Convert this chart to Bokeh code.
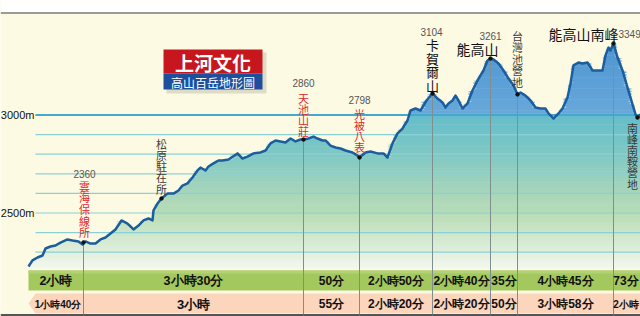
import numpy as np
from bokeh.plotting import figure
from bokeh.models import Range1d
from bokeh.core.properties import value
from bokeh.embed import file_html
from bokeh.resources import INLINE

# ---------------- data ----------------
dist = [28, 32, 37, 42, 45, 50, 55, 60, 67, 72, 78, 82, 85, 90, 95, 100, 105, 110, 115, 121,
        127, 133, 138, 143, 148, 152, 153, 157, 161, 167, 173, 178, 182, 187, 192, 197, 200, 205,
        208, 213, 218, 222, 228, 237, 242, 247, 253, 260, 265, 270, 275, 280, 285, 290, 295, 300,
        303, 308, 313, 317, 322, 325, 330, 335, 340, 345, 352, 357, 359, 365, 370, 377, 383, 387,
        392, 397, 402, 407, 410, 415, 420, 426, 432, 437, 442, 445, 448, 452, 455, 458, 462, 467,
        472, 477, 480, 483, 487, 490, 493, 498, 503, 508, 513, 517, 520, 525, 530, 535, 540, 545,
        548, 553, 558, 562, 567, 570, 573, 578, 582, 587, 592, 597, 602, 605, 608, 610, 613, 617,
        622, 627, 632, 635, 637, 640]
elev = [2227, 2258, 2273, 2283, 2319, 2329, 2334, 2349, 2365, 2360, 2355, 2339, 2355, 2344,
        2344, 2365, 2375, 2395, 2416, 2462, 2446, 2416, 2436, 2462, 2472, 2462, 2513, 2548,
        2574, 2599, 2599, 2615, 2640, 2651, 2681, 2717, 2732, 2717, 2737, 2753, 2768, 2768,
        2773, 2804, 2778, 2788, 2804, 2809, 2819, 2855, 2870, 2865, 2860, 2880, 2865, 2875,
        2875, 2880, 2890, 2880, 2870, 2870, 2844, 2834, 2829, 2819, 2809, 2793, 2783, 2809,
        2814, 2804, 2804, 2783, 2855, 2906, 2931, 2972, 3023, 3033, 3023, 3074, 3110, 3084,
        3064, 3038, 3059, 3074, 3099, 3074, 3033, 3059, 3125, 3176, 3202, 3227, 3278, 3288,
        3283, 3263, 3227, 3186, 3151, 3105, 3115, 3099, 3074, 3038, 3033, 3033, 3008, 2982,
        3008, 3033, 3089, 3161, 3253, 3268, 3263, 3268, 3227, 3227, 3227, 3304, 3344, 3329,
        3365, 3293, 3227, 3140, 3054, 3003, 2987, 3003]

wp_names = ["雲海保線所", "松原駐在所", "天池山莊", "光被八表", "卡賀爾山", "能高山",
            "台灣池營地", "能高山南峰", "南峰南鞍營地"]
wp_dist = [83, 161, 303, 359, 432, 490, 517, 613, 637]
wp_elev = [2350, 2574, 2875, 2783, 3110, 3288, 3105, 3365, 2987]
wp_height_text = ["2360", "", "2860", "2798", "3104", "3261", "", "3349", ""]

seg_bounds = [28, 83, 303, 359, 432, 490, 517, 613, 640]
time_forward = ["2小時", "3小時30分", "50分", "2小時50分", "2小時40分", "35分", "4小時45分", "73分"]
time_back = ["1小時40分", "3小時", "55分", "2小時20分", "2小時20分", "50分", "3小時58分", "2小時"]

grid_elev = [2300, 2400, 2500, 2600, 2700, 2800, 2900, 3000]
tick_elev = [3000, 2500]
tick_text = ["3000m", "2500m"]

# ---------------- layout helpers ----------------
W, H = 640, 316
Y3000 = 114.5      # pixel row of 3000 m
PX100 = 19.6       # pixels per 100 m


def E(py):
    """pixel row -> elevation units"""
    return 3000 - (py - Y3000) / PX100 * 100


CJK = value("Noto Sans CJK TC")
NUM = value("Liberation Sans")
CREAM = "#fdfae3"

p = figure(width=W, height=H, x_range=Range1d(0, W), y_range=Range1d(E(H), E(0)),
           min_border=0, x_axis_location=None, y_axis_location=None,
           toolbar_location=None, output_backend="svg",
           background_fill_color=CREAM, border_fill_color=CREAM, outline_line_color=None)
p.grid.grid_line_color = None

# header strip
p.quad(left=0, right=W, top=E(-5), bottom=E(12), color="white", line_color=None)
p.segment(x0=0, y0=E(12.5), x1=W, y1=E(12.5), line_color="#7a7a7a", line_width=1.6)
p.circle(x=15.5, y=E(-4.5), radius=7, fill_color="#e47aa6", line_color=None)

# gradient fill under the profile, drawn as elevation bands
stops_e = [2205, 2300, 2400, 2500, 2600, 2800, 2995, 3005, 3200, 3420]
stops_c = [(246, 249, 242), (226, 239, 222), (205, 230, 200), (184, 220, 182),
           (168, 214, 186), (128, 200, 196), (100, 190, 202), (104, 168, 218),
           (90, 158, 214), (76, 145, 208)]
stops_c = np.array(stops_c, dtype=float)
ev = np.array(elev, dtype=float)
base = E(268)
step = 8
lo = base
while lo < 3420:
    hi = lo + step
    mid = (lo + hi) / 2
    col = [int(round(np.interp(mid, stops_e, stops_c[:, k]))) for k in range(3)]
    y1 = max(lo - 3, base)
    y2 = np.clip(ev, y1, hi)
    p.varea(x=dist, y1=y1, y2=y2, fill_color="#%02x%02x%02x" % tuple(col))
    lo = hi

# time bars
p.quad(left=seg_bounds[0], right=seg_bounds[-1], top=E(270), bottom=E(290),
       fill_color="#a3c85d", line_color=None)
p.quad(left=seg_bounds[0], right=seg_bounds[-1], top=E(270), bottom=E(273),
       fill_color="#b3d175", line_color=None)
x0 = seg_bounds[0]
p.patch(x=[x0, x0 + 7, W, W, x0 + 7], y=[E(303), E(293), E(293), E(313), E(313)],
        fill_color="#fcd5bd", line_color=None)
p.segment(x0=0, y0=E(314.5), x1=W, y1=E(314.5), line_color="#555555", line_width=2)

# grid lines
for g in grid_elev:
    if g == 3000:
        p.segment(x0=35, y0=g, x1=W, y1=g, line_color="#46a8cc", line_width=2)
    else:
        p.segment(x0=35, y0=g, x1=W, y1=g, line_color="#8bd0d6", line_width=1.2)

# divider lines at segment boundaries
wp_lookup = dict(zip(wp_dist, wp_elev))
div_x = seg_bounds[1:-1]
div_top = [wp_lookup[d] for d in div_x]
p.segment(x0=div_x, y0=div_top, x1=div_x, y1=[E(314)] * len(div_x),
          line_color="#7d8f8f", line_width=1)

# profile
p.line(dist, elev, line_color="#1b5e9e", line_width=2.5, line_join="round")
p.scatter(wp_dist, wp_elev, size=3.5, color="#111111")

# bar labels
centers = [(a + b) / 2 for a, b in zip(seg_bounds[:-1], seg_bounds[1:])]
fwd_x = centers[:-1] + [centers[-1] - 1]
fwd_sizes = ["12.5px", "12.5px", "12px", "12px", "12px", "12px", "12px", "12px"]
for fx, ft, fs in zip(fwd_x, time_forward, fwd_sizes):
    p.text(x=[fx], y=[E(280.5)], text=[ft], text_font=NUM,
           text_font_style="bold", text_font_size=fs, text_align="center",
           text_baseline="middle", text_color="#111111")
back_sizes = ["10px", "13px", "12px", "12px", "12px", "12px", "12px", "10px"]
back_x = [centers[0] + 2] + centers[1:-1] + [centers[-1] - 1]
for bx, bt, bs in zip(back_x, time_back, back_sizes):
    p.text(x=[bx], y=[E(303.5)], text=[bt], text_font=NUM,
           text_font_style="bold", text_font_size=bs, text_align="center",
           text_baseline="middle", text_color="#111111")

# axis labels
p.text(x=[34] * len(tick_elev), y=tick_elev, text=tick_text, text_font=NUM,
       text_font_size="11px", text_align="right", text_baseline="middle", text_color="#111111")

# vertical waypoint labels: (name index, x shift, first char centre row, step, size, color)
RED, GREY, BLACK = "#e3262b", "#3a3a3a", "#111111"
vert = [(0, 1, 185, 11.7, 11, RED), (1, 0, 143, 11.3, 11, GREY), (2, 0, 97, 11.0, 11, RED),
        (3, 0, 113, 11.3, 11, RED), (4, 0, 44, 13.7, 13, BLACK), (6, 0, 35, 11.5, 11, GREY),
        (8, -5, 127, 11.2, 11, GREY)]
for i, dx, c0, stp, sz, col in vert:
    chars = list(wp_names[i])
    p.text(x=[wp_dist[i] + dx] * len(chars), y=[E(c0 + k * stp) for k in range(len(chars))],
           text=chars, text_font=CJK, text_font_size="%dpx" % sz,
           text_align="center", text_baseline="middle", text_color=col)
# horizontal peak names
p.text(x=[wp_dist[5] - 13, wp_dist[7] - 30], y=[E(48), E(33)], text=[wp_names[5], wp_names[7]],
       text_font=CJK, text_font_size="14px", text_align="center", text_baseline="middle",
       text_color=BLACK)
# elevation numbers: (index, x shift, pixel row, align)
nums = [(0, 1, 173, "center"), (2, 0, 82, "center"), (3, 0, 99, "center"),
        (4, -1, 31, "center"), (5, 0, 35, "center"), (7, 5, 33, "left")]
for i, dx, py, al in nums:
    p.text(x=[wp_dist[i] + dx], y=[E(py)], text=[wp_height_text[i]], text_font=NUM,
           text_font_size="10px", text_align=al, text_baseline="middle", text_color="#555555")

# publisher logo
p.quad(left=166, right=266, top=E(52), bottom=E(93), fill_color="#000000", fill_alpha=0.12,
       line_color=None)
p.quad(left=163, right=262, top=E(49), bottom=E(73), fill_color="#c8161e", line_color=None)
p.quad(left=163, right=262, top=E(73), bottom=E(89), fill_color="#1d4f9d", line_color=None)
p.text(x=[212.5], y=[E(61.5)], text=["上河文化"], text_font=CJK, text_font_style="bold",
       text_font_size="19px", text_align="center", text_baseline="middle", text_color="white")
p.text(x=[212.5], y=[E(81.5)], text=["高山百岳地形圖"], text_font=CJK,
       text_font_size="12px", text_align="center", text_baseline="middle", text_color="white")

open("out.html", "w").write(file_html(p, INLINE))
